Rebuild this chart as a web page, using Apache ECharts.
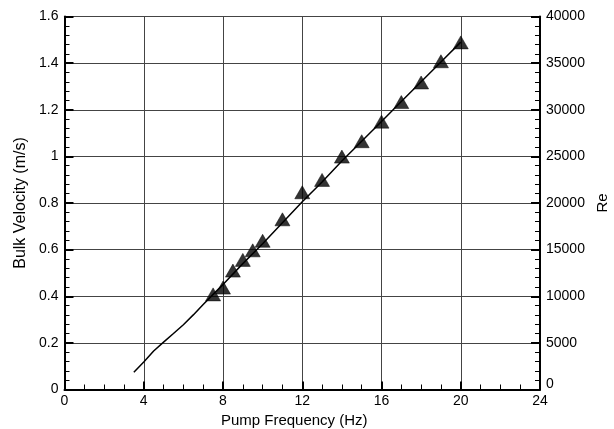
<!DOCTYPE html>
<html>
<head>
<meta charset="utf-8">
<script src="https://cdn.jsdelivr.net/npm/echarts@6/dist/echarts.min.js"></script>
<style>html,body{margin:0;padding:0;background:#fff;}#c{width:614px;height:429px;}</style>
</head>
<body>
<div id="c"></div>
<script>
// Measured points (triangles)
const freqPoints = [7.5, 8, 8.5, 9, 9.5, 10, 11, 12, 13, 14, 15, 16, 17, 18, 19, 20];
const velPoints  = [0.408, 0.437, 0.510, 0.556, 0.597, 0.638, 0.730, 0.846, 0.899, 0.999, 1.065, 1.149, 1.233, 1.317, 1.408, 1.489];
// Continuous curve
const freqCurve = [3.5, 4.0, 4.5, 5.0, 5.5, 6.0, 6.5, 7.0, 7.5, 8, 9, 10, 11, 12, 13, 14, 15, 16, 17, 18, 19, 20];
const velCurve  = [0.074, 0.118, 0.165, 0.203, 0.24, 0.278, 0.32, 0.365, 0.408, 0.45, 0.54, 0.625, 0.715, 0.805, 0.89, 0.98, 1.065, 1.15, 1.235, 1.32, 1.405, 1.49];
// Axis ranges
const xRange = [0, 24, 4];
const yRange = [0, 1.6, 0.2];
const reRange = [0, 40000, 5000];

const chart = echarts.init(document.getElementById('c'));
const font = 'Liberation Sans, Arial, sans-serif';
const curve = freqCurve.map((f, i) => [f, velCurve[i]]);
const pts = freqPoints.map((f, i) => [f, velPoints[i]]);

chart.setOption({
  animation: false,
  backgroundColor: '#fff',
  grid: {left: 64.5, right: 74, top: 16.5, bottom: 39.5, containLabel: false, outerBoundsMode: 'none'},
  xAxis: {
    type: 'value', min: xRange[0], max: xRange[1], interval: xRange[2],
    name: 'Pump Frequency (Hz)', nameLocation: 'middle', nameGap: 24,
    nameTextStyle: {fontFamily: font, fontSize: 15, color: '#000', padding: [0, 16, 0, 0]},
    axisLine: {show: true, onZero: false, lineStyle: {color: '#000', width: 2}},
    axisTick: {show: true, inside: true, length: 8, lineStyle: {color: '#000', width: 2}},
    minorTick: {show: true, splitNumber: 4, length: 5, lineStyle: {color: '#000', width: 1}},
    axisLabel: {fontFamily: font, fontSize: 14, color: '#000', margin: 5, showMinLabel: true, showMaxLabel: true},
    splitLine: {show: true, lineStyle: {color: '#444', width: 1}}
  },
  yAxis: [{
    type: 'value', min: yRange[0], max: yRange[1], interval: yRange[2],
    name: 'Bulk Velocity (m/s)', nameLocation: 'middle', nameGap: 34,
    nameTextStyle: {fontFamily: font, fontSize: 16, color: '#000'},
    axisLine: {show: true, onZero: false, lineStyle: {color: '#000', width: 2}},
    axisTick: {show: true, inside: true, length: 9, lineStyle: {color: '#000', width: 2}},
    minorTick: {show: true, splitNumber: 5, length: 5, lineStyle: {color: '#000', width: 1}},
    axisLabel: {fontFamily: font, fontSize: 14, color: '#000', margin: 6,
      formatter: v => String(Math.round(v * 10) / 10)},
    splitLine: {show: true, lineStyle: {color: '#444', width: 1}}
  }, {
    type: 'value', min: reRange[0], max: reRange[1], interval: reRange[2], position: 'right',
    name: 'Re', nameLocation: 'middle', nameGap: 54, nameRotate: 90,
    nameTextStyle: {fontFamily: font, fontSize: 15, color: '#000'},
    axisLine: {show: true, onZero: false, lineStyle: {color: '#000', width: 2}},
    axisTick: {show: true, inside: true, length: 9, lineStyle: {color: '#000', width: 2}},
    minorTick: {show: true, splitNumber: 5, length: 5, lineStyle: {color: '#000', width: 1}},
    axisLabel: {fontFamily: font, fontSize: 14, color: '#000', margin: 6,
      formatter: v => v === 0 ? '{up|0}' : String(v),
      rich: {up: {fontFamily: font, fontSize: 14, color: '#000', padding: [0, 0, 10, 0]}}},
    splitLine: {show: false}
  }],
  series: [{
    type: 'line', data: curve, showSymbol: false, symbol: 'none',
    lineStyle: {color: '#000', width: 1.5}, z: 3
  }, {
    type: 'scatter', data: pts, symbol: 'triangle', symbolSize: [15, 13],
    itemStyle: {color: '#000', borderColor: '#000', borderWidth: 0.6}, z: 4
  }]
});
</script>
</body>
</html>
